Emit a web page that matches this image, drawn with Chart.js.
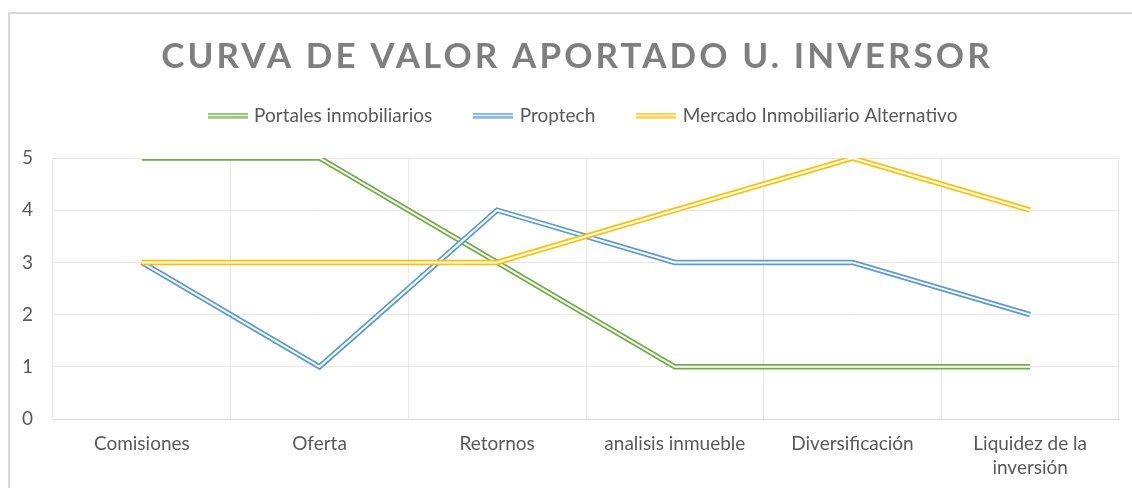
<!DOCTYPE html>
<html>
<head>
<meta charset="utf-8">
<script src="https://cdn.jsdelivr.net/npm/chart.js@4/dist/chart.umd.min.js"></script>
<style>
  body { margin: 0; background: #fff; }
  #wrap { position: relative; width: 1132px; height: 488px; }
</style>
</head>
<body>
<div id="wrap"><canvas id="chart"></canvas></div>
<script>
const chartTitle = 'CURVA DE VALOR APORTADO U. INVERSOR';
const categories = ['Comisiones', 'Oferta', 'Retornos', 'analisis inmueble', 'Diversificación', ['Liquidez de la', 'inversión']];
const seriesNames = ['Portales inmobiliarios', 'Proptech', 'Mercado Inmobiliario Alternativo'];
const portales = [5, 5, 3, 1, 1, 1];
const proptech = [3, 1, 4, 3, 3, 2];
const mercado = [3, 3, 3, 4, 5, 4];
const yTickLabels = ['0', '1', '2', '3', '4', '5'];

const colors = ['#70ad47', '#5b9bd5', '#ffc000'];
const values = [portales, proptech, mercado];

// small canvas used as the double-line legend marker
function doubleLineMarker(color) {
  const c = document.createElement('canvas');
  c.width = 40;
  c.height = 6;
  const g = c.getContext('2d');
  g.fillStyle = color;
  g.fillRect(0, 0.5, 40, 1.7);
  g.fillRect(0, 3.8, 40, 1.7);
  return c;
}
const markers = colors.map(doubleLineMarker);

// each series = thick coloured line + thin white line on top (Excel "double" line)
const datasets = [];
values.forEach((vals, i) => {
  const base = (values.length - 1 - i) * 2;
  datasets.push({
    label: seriesNames[i],
    data: vals,
    borderColor: colors[i],
    borderWidth: 5.5,
    pointRadius: 0,
    order: base + 1
  });
  datasets.push({
    label: '_inner',
    data: vals,
    borderColor: '#ffffff',
    borderWidth: 2,
    pointRadius: 0,
    order: base
  });
});

// frame, spaced title, fixed legend height / shift
const decorPlugin = {
  id: 'decor',
  beforeLayout(chart) {
    const legend = chart.legend;
    if (legend && !legend._fixed) {
      const fit = legend.fit;
      legend.fit = function () {
        fit.call(this);
        this.height = 96;
      };
      legend._fixed = true;
    }
  },
  afterLayout(chart) {
    const legend = chart.legend;
    legend.left += 19.5;
    legend.right += 19.5;
  },
  beforeDraw(chart) {
    const ctx = chart.ctx;
    ctx.save();
    ctx.fillStyle = '#ffffff';
    ctx.fillRect(0, 0, chart.width, chart.height);
    ctx.strokeStyle = '#d9d9d9';
    ctx.lineWidth = 2;
    ctx.strokeRect(9, 13, 1150, 500);
    ctx.restore();
  },
  afterDraw(chart) {
    const ctx = chart.ctx;
    ctx.save();
    ctx.font = 'bold 35px Lato';
    ctx.letterSpacing = '3.1px';
    ctx.fillStyle = '#7f7f7f';
    ctx.textAlign = 'center';
    ctx.textBaseline = 'middle';
    ctx.fillText(chartTitle, 577, 57);
    ctx.restore();
  }
};

new Chart(document.getElementById('chart'), {
  type: 'line',
  data: { labels: categories, datasets },
  plugins: [decorPlugin],
  options: {
    responsive: true,
    maintainAspectRatio: false,
    animation: false,
    layout: { padding: { top: 62, left: 10, right: 13, bottom: 8 } },
    plugins: {
      title: { display: false },
      tooltip: { enabled: false },
      legend: {
        labels: {
          color: '#595959',
          font: { family: 'Lato', size: 19 },
          usePointStyle: true,
          pointStyleWidth: 34,
          padding: 44,
          generateLabels() {
            return seriesNames.map((name, i) => ({
              text: name,
              pointStyle: markers[i],
              fillStyle: colors[i],
              strokeStyle: colors[i],
              fontColor: '#595959',
              lineWidth: 0,
              datasetIndex: i * 2
            }));
          }
        }
      }
    },
    scales: {
      x: {
        offset: true,
        afterFit(scale) { scale.height = 61; },
        grid: { offset: true, color: '#e8e8e8', drawTicks: false },
        border: { color: '#d9d9d9' },
        ticks: {
          color: '#595959',
          font: { family: 'Lato', size: 19, lineHeight: 1.26 },
          padding: 13,
          maxRotation: 0,
          autoSkip: false
        }
      },
      y: {
        min: 0,
        max: 5,
        afterFit(scale) { scale.width = 43; },
        grid: { color: '#e8e8e8', drawTicks: false },
        border: { display: false },
        ticks: {
          stepSize: 1,
          color: '#595959',
          font: { family: 'Lato', size: 19 },
          padding: 20,
          callback: (v) => yTickLabels[v]
        }
      }
    }
  }
});
</script>
</body>
</html>
